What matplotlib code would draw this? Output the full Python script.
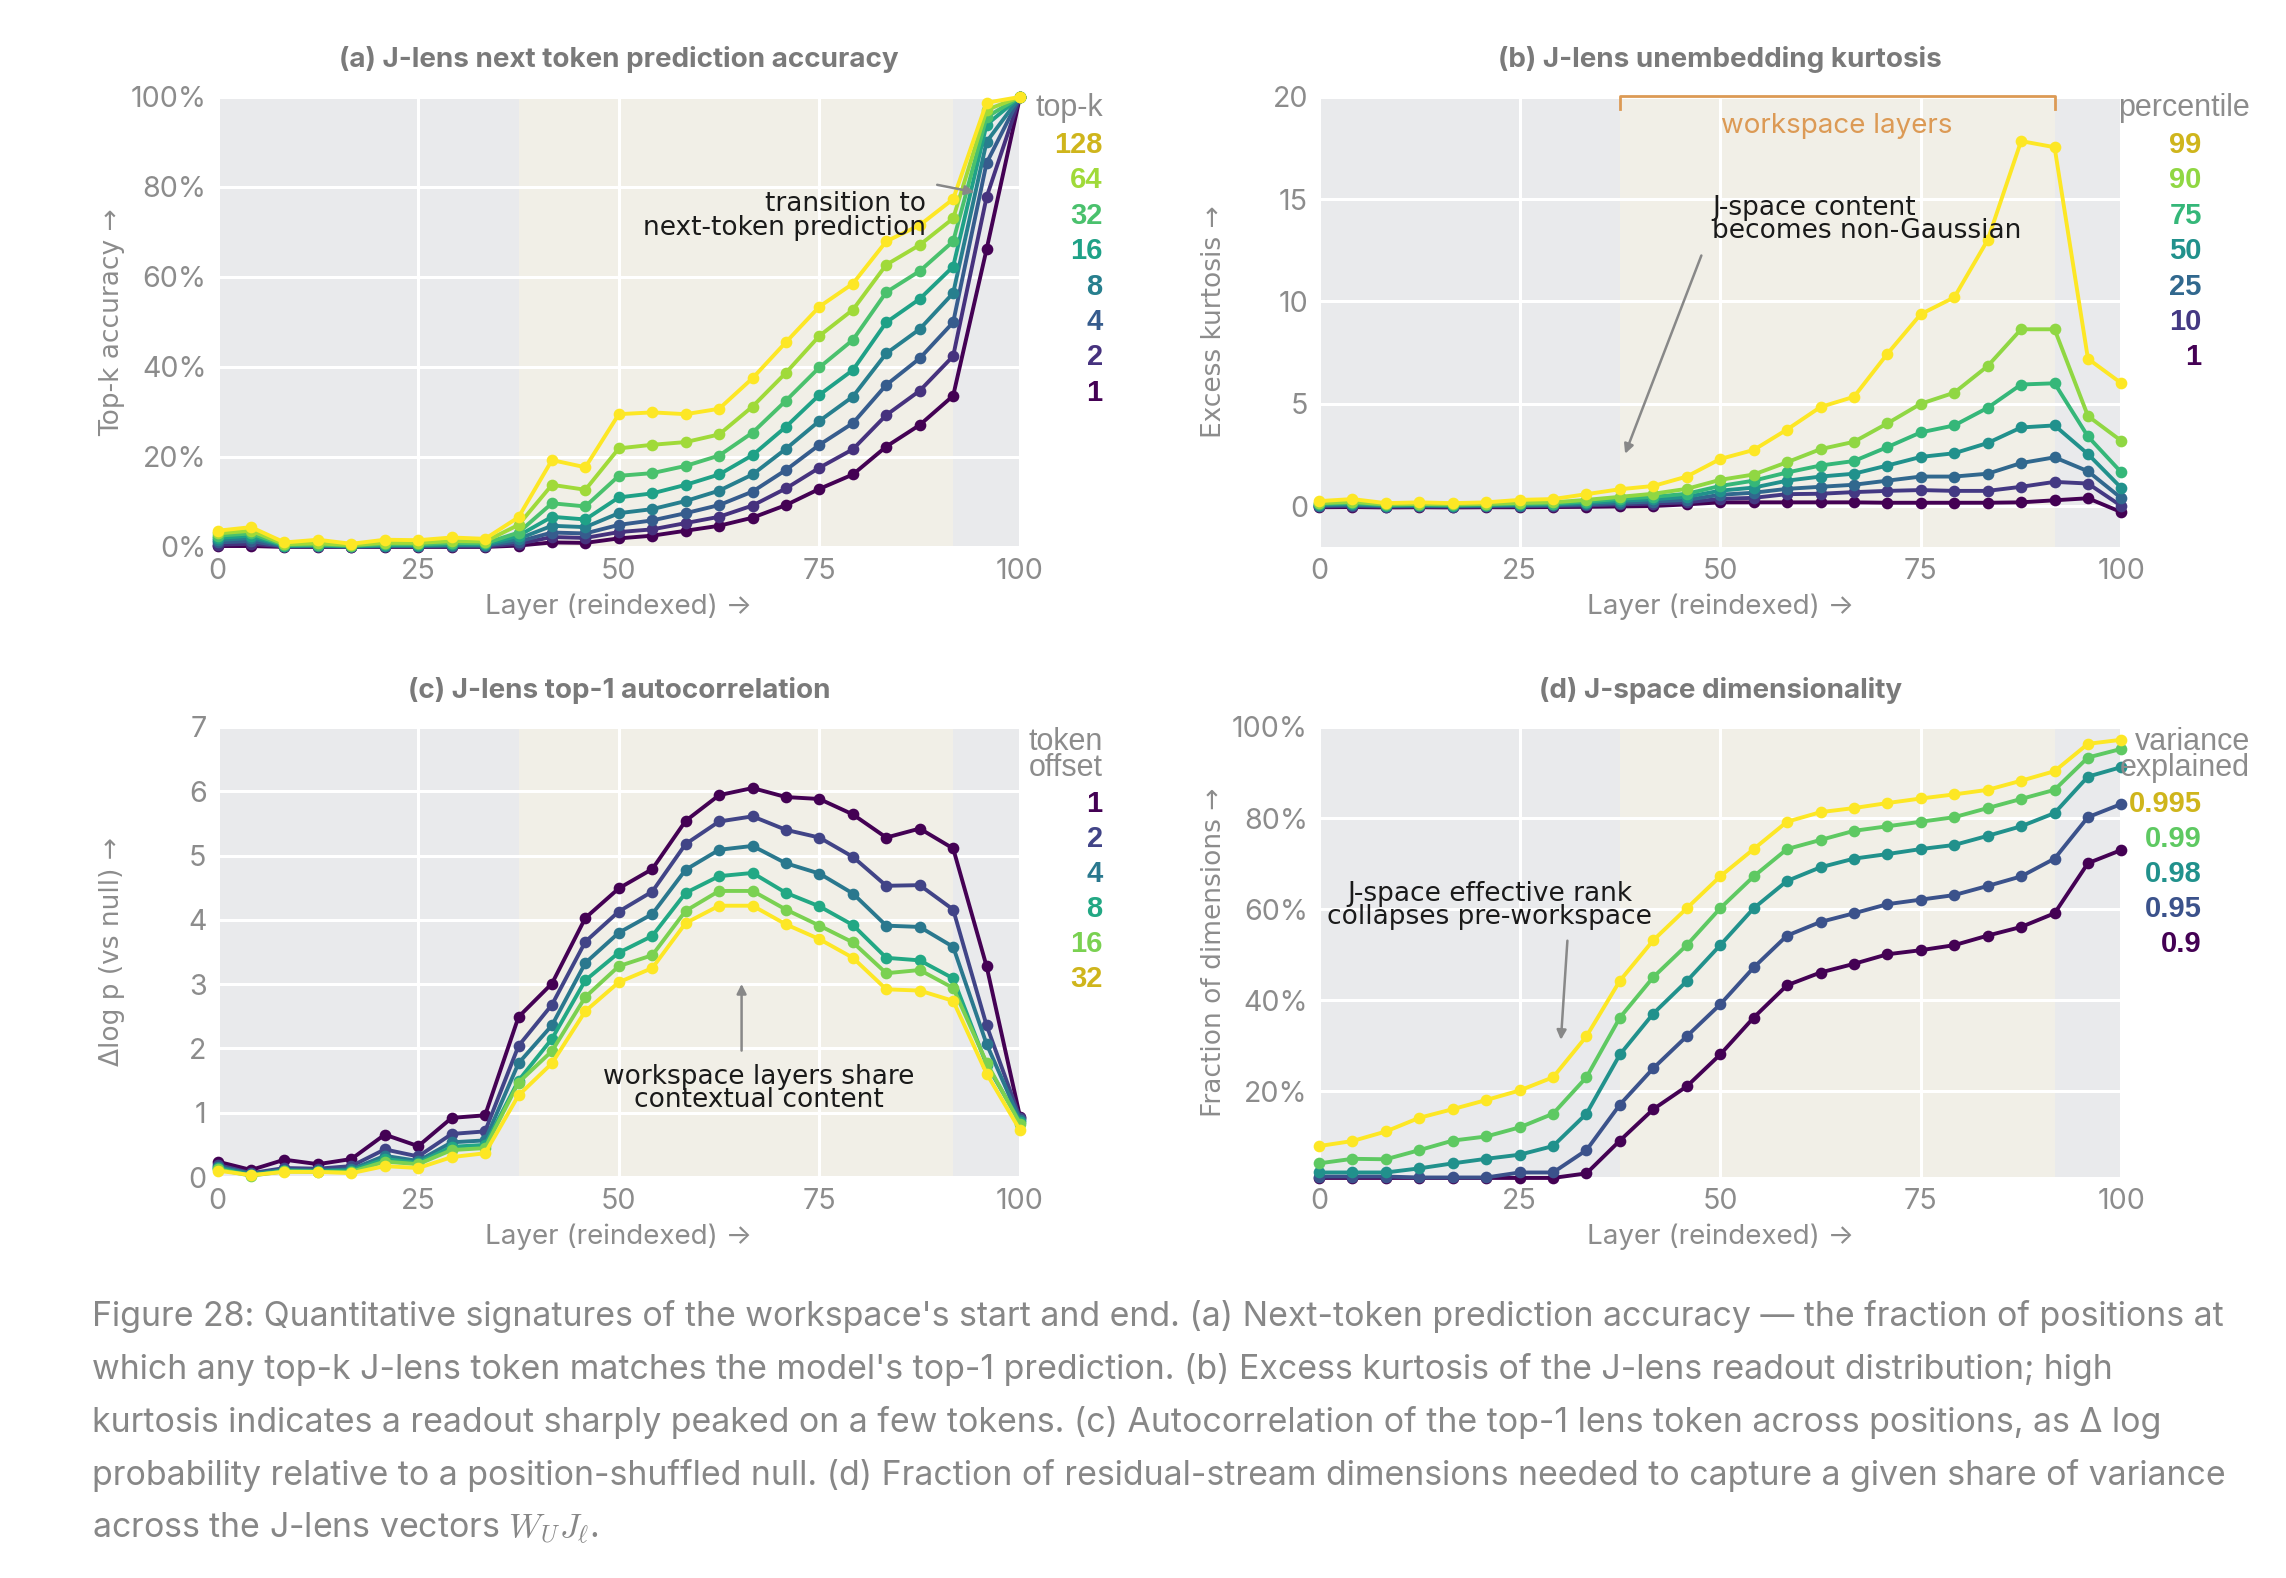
import matplotlib.pyplot as plt
import numpy as np

# reindexed layer positions (25 sampled layers)
layers = [0, 4.17, 8.33, 12.5, 16.67, 20.83, 25, 29.17, 33.33, 37.5, 41.67, 45.83, 50,
          54.17, 58.33, 62.5, 66.67, 70.83, 75, 79.17, 83.33, 87.5, 91.67, 95.83, 100]
workspace = (37.5, 91.67)

# (a) top-k accuracy, %
topk_labels = ['1', '2', '4', '8', '16', '32', '64', '128']
top1 = [0.2, 0.2, 0.0, 0.0, 0.0, 0.0, 0.0, 0.0, 0.0, 0.3, 1.0, 0.9, 1.9, 2.5, 3.6, 4.7, 6.5, 9.3, 12.9, 16.1, 22.3, 27.1, 33.6, 66.1, 100]
top2 = [0.5, 0.7, 0.1, 0.1, 0.0, 0.1, 0.1, 0.1, 0.1, 0.7, 2.2, 2.0, 3.3, 3.9, 5.3, 6.7, 9.2, 13.0, 17.6, 21.7, 29.3, 34.7, 42.4, 77.7, 100]
top4 = [1.0, 1.3, 0.1, 0.2, 0.1, 0.2, 0.2, 0.3, 0.3, 1.2, 3.2, 3.0, 4.9, 5.9, 7.5, 9.3, 12.3, 17.1, 22.7, 27.5, 36.0, 41.9, 49.9, 85.3, 100]
top8 = [1.5, 2.0, 0.2, 0.3, 0.1, 0.3, 0.3, 0.4, 0.4, 1.8, 4.7, 4.4, 7.5, 8.4, 10.2, 12.5, 16.1, 21.8, 28.0, 33.4, 43.0, 48.4, 56.4, 90.0, 100]
top16 = [2.0, 2.5, 0.3, 0.4, 0.2, 0.4, 0.4, 0.6, 0.6, 2.5, 6.7, 6.1, 11.0, 11.9, 13.8, 16.1, 20.4, 26.7, 33.8, 39.3, 49.9, 55.1, 62.3, 93.8, 100]
top32 = [2.5, 3.0, 0.4, 0.5, 0.3, 0.6, 0.6, 0.9, 0.8, 3.2, 9.7, 9.0, 15.8, 16.4, 18.0, 20.3, 25.4, 32.5, 39.9, 46.0, 56.6, 61.3, 67.9, 95.5, 100]
top64 = [3.0, 3.6, 0.6, 0.8, 0.4, 0.9, 0.9, 1.3, 1.2, 4.9, 13.8, 12.7, 21.9, 22.7, 23.3, 25.0, 31.2, 38.7, 46.9, 52.7, 62.7, 67.1, 73.0, 97.1, 100]
top128 = [3.6, 4.4, 1.0, 1.6, 0.7, 1.6, 1.5, 2.1, 1.8, 6.6, 19.3, 17.7, 29.5, 29.9, 29.5, 30.7, 37.5, 45.5, 53.4, 58.5, 67.9, 71.5, 77.3, 98.7, 100]

# (b) excess kurtosis by percentile
pct_labels = ['1', '10', '25', '50', '75', '90', '99']
pct1 = [-0.06, -0.05, -0.07, -0.06, -0.07, -0.06, -0.06, -0.05, -0.04, -0.02, 0.0, 0.08, 0.18, 0.18, 0.18, 0.18, 0.18, 0.16, 0.16, 0.16, 0.16, 0.18, 0.28, 0.38, -0.3]
pct10 = [-0.02, 0.0, -0.03, -0.02, -0.03, -0.02, -0.01, 0.0, 0.03, 0.08, 0.12, 0.18, 0.35, 0.4, 0.58, 0.6, 0.68, 0.74, 0.78, 0.74, 0.74, 0.94, 1.18, 1.1, 0.0]
pct25 = [0.02, 0.05, 0.0, 0.01, 0.0, 0.01, 0.02, 0.04, 0.08, 0.15, 0.22, 0.3, 0.55, 0.65, 0.84, 0.94, 1.04, 1.24, 1.44, 1.44, 1.58, 2.1, 2.38, 1.7, 0.38]
pct50 = [0.06, 0.1, 0.02, 0.04, 0.02, 0.04, 0.06, 0.08, 0.15, 0.25, 0.33, 0.45, 0.75, 0.9, 1.24, 1.44, 1.58, 1.98, 2.4, 2.58, 3.08, 3.84, 3.94, 2.54, 0.88]
pct75 = [0.1, 0.15, 0.05, 0.07, 0.05, 0.07, 0.1, 0.12, 0.22, 0.35, 0.45, 0.6, 0.98, 1.24, 1.64, 1.98, 2.2, 2.88, 3.6, 3.94, 4.8, 5.94, 6.0, 3.4, 1.64]
pct90 = [0.14, 0.2, 0.08, 0.1, 0.08, 0.1, 0.15, 0.18, 0.3, 0.45, 0.6, 0.84, 1.28, 1.54, 2.14, 2.78, 3.14, 4.04, 5.0, 5.54, 6.84, 8.64, 8.64, 4.4, 3.18]
pct99 = [0.24, 0.34, 0.14, 0.18, 0.14, 0.18, 0.3, 0.34, 0.58, 0.82, 0.98, 1.44, 2.3, 2.74, 3.74, 4.84, 5.34, 7.44, 9.38, 10.2, 13.0, 17.84, 17.54, 7.2, 6.0]

# (c) delta log p vs null, by token offset
offset_labels = ['1', '2', '4', '8', '16', '32']
off1 = [0.24, 0.11, 0.27, 0.2, 0.28, 0.66, 0.48, 0.92, 0.96, 2.49, 3.01, 4.03, 4.49, 4.79, 5.54, 5.94, 6.05, 5.91, 5.88, 5.64, 5.28, 5.42, 5.11, 3.28, 0.94]
off2 = [0.19, 0.06, 0.14, 0.13, 0.17, 0.43, 0.32, 0.67, 0.71, 2.04, 2.68, 3.66, 4.13, 4.44, 5.18, 5.53, 5.61, 5.40, 5.28, 4.98, 4.53, 4.54, 4.16, 2.36, 0.92]
off4 = [0.16, 0.05, 0.11, 0.10, 0.12, 0.33, 0.25, 0.54, 0.57, 1.77, 2.36, 3.33, 3.80, 4.09, 4.78, 5.09, 5.15, 4.88, 4.72, 4.41, 3.91, 3.89, 3.58, 2.07, 0.89]
off8 = [0.14, 0.03, 0.10, 0.09, 0.10, 0.28, 0.22, 0.47, 0.50, 1.50, 2.15, 3.06, 3.49, 3.75, 4.42, 4.68, 4.73, 4.42, 4.21, 3.92, 3.41, 3.37, 3.09, 1.75, 0.86]
off16 = [0.12, 0.02, 0.09, 0.08, 0.08, 0.24, 0.20, 0.42, 0.45, 1.47, 1.96, 2.80, 3.28, 3.45, 4.14, 4.45, 4.45, 4.16, 3.91, 3.65, 3.17, 3.22, 2.94, 1.78, 0.83]
off32 = [0.10, 0.03, 0.08, 0.08, 0.06, 0.17, 0.14, 0.31, 0.37, 1.27, 1.77, 2.58, 3.03, 3.25, 3.95, 4.22, 4.22, 3.93, 3.70, 3.41, 2.92, 2.90, 2.74, 1.61, 0.73]

# (d) fraction of dimensions, % by variance explained
var_labels = ['0.9', '0.95', '0.98', '0.99', '0.995']
v90 = [1.0, 1.0, 1.0, 1.0, 1.0, 1.0, 1.0, 1.0, 2.0, 9.2, 16.1, 21.1, 28.1, 36.2, 43.3, 46.1, 48.0, 50.1, 51.0, 52.1, 54.2, 56.1, 59.1, 70.1, 73.0]
v95 = [1.3, 1.3, 1.3, 1.1, 1.1, 1.1, 2.2, 2.2, 7.1, 17.1, 25.1, 32.1, 39.1, 47.2, 54.2, 57.2, 59.1, 61.1, 62.1, 63.1, 65.1, 67.2, 71.1, 80.2, 83.1]
v98 = [2.2, 2.2, 2.2, 3.1, 4.2, 5.2, 6.1, 8.0, 15.1, 28.1, 37.1, 44.2, 52.1, 60.2, 66.2, 69.2, 71.1, 72.1, 73.2, 74.1, 76.1, 78.2, 81.1, 89.1, 91.2]
v99 = [4.2, 5.2, 5.1, 7.1, 9.2, 10.1, 12.1, 15.1, 23.1, 36.2, 45.1, 52.1, 60.2, 67.2, 73.2, 75.2, 77.2, 78.2, 79.2, 80.2, 82.2, 84.2, 86.2, 93.3, 95.2]
v995 = [8.0, 9.1, 11.2, 14.2, 16.1, 18.1, 20.2, 23.1, 32.1, 44.3, 53.2, 60.2, 67.2, 73.2, 79.2, 81.3, 82.2, 83.3, 84.3, 85.2, 86.2, 88.2, 90.3, 96.3, 97.2]

caption = [
    "Figure 28: Quantitative signatures of the workspace's start and end. (a) Next-token prediction accuracy \u2014 the fraction of positions at",
    "which any top-k J-lens token matches the model's top-1 prediction. (b) Excess kurtosis of the J-lens readout distribution; high",
    "kurtosis indicates a readout sharply peaked on a few tokens. (c) Autocorrelation of the top-1 lens token across positions, as \u0394 log",
    "probability relative to a position-shuffled null. (d) Fraction of residual-stream dimensions needed to capture a given share of variance",
    r"across the J-lens vectors $W_U J_\ell$.",
]

BG = '#e9eaec'
BEIGE = '#f1efe7'
TICK = '#8c8c8c'
TITLE = '#7a7a7a'
GOLD = '#cfb51c'
MAIN = 'Inter'
SIDE = 'DejaVu Sans'
LEG = 'Liberation Sans'


def viridis(n):
    return [plt.cm.viridis(v) for v in np.linspace(0, 1, n)]


def panel(rect, title, series, ylim, yticks, yticklabels, ylabel):
    ax = fig.add_axes(rect)
    ax.set_facecolor(BG)
    ax.axvspan(*workspace, color=BEIGE, zorder=0, lw=0)
    ax.set_xlim(0, 100)
    ax.set_ylim(*ylim)
    ax.set_xticks([0, 25, 50, 75, 100])
    ax.set_yticks(yticks)
    ax.set_yticklabels(yticklabels)
    ax.grid(True, color='white', lw=1.1, zorder=1)
    ax.set_axisbelow(True)
    for s in ax.spines.values():
        s.set_visible(False)
    ax.tick_params(length=0, colors=TICK, labelsize=10.3, pad=4)
    for lab in ax.get_xticklabels() + ax.get_yticklabels():
        lab.set_fontfamily(MAIN)
    ax.set_xlabel('Layer (reindexed) \u2192', color=TICK, fontsize=10, family=MAIN, labelpad=3)
    ax.set_ylabel(ylabel, color=TICK, fontsize=9.5, family=SIDE)
    ax.yaxis.set_label_coords(-0.115, 0.5)
    ax.text(0.5, 1.082, title, transform=ax.transAxes, ha='center', va='center',
            fontsize=10, fontweight='bold', color=TITLE, family=MAIN)
    cols = viridis(len(series))
    for y, c in zip(series, cols):
        ax.plot(layers, y, color=c, lw=1.4, marker='o', ms=3.2, clip_on=False, zorder=3)
    return ax, cols


def legend(ax, title, labels, cols, x_title, x_num, y_title, y0, dy, top_first=False):
    ax.text(x_title, y_title, title, transform=ax.transAxes, ha='right', va='top',
            fontsize=11, color=TICK, family=LEG, linespacing=0.85)
    n = len(labels)
    order = range(n) if top_first else range(n - 1, -1, -1)
    for i, j in enumerate(order):
        c = GOLD if j == n - 1 else cols[j]
        ax.text(x_num, y0 - i * dy, labels[j], transform=ax.transAxes, ha='right', va='center',
                fontsize=10.5, fontweight='bold', color=c, family=LEG)


def note(ax, text, xy, xytext, tx, ty, ha):
    ax.annotate('', xy=xy, xytext=xytext,
                arrowprops=dict(arrowstyle='-|>', color='#888888', lw=0.9, mutation_scale=7), zorder=5)
    ax.text(tx, ty, text, ha=ha, va='center', fontsize=9.5, family=SIDE, color='#1a1a1a',
            linespacing=0.88, zorder=6)


fig = plt.figure(figsize=(11.43, 7.89), dpi=200)
W, H = 0.351, 0.2852

# (a)
ax, cols = panel([0.0952, 0.6534, W, H], '(a) J-lens next token prediction accuracy',
                 [top1, top2, top4, top8, top16, top32, top64, top128],
                 (0, 100), [0, 20, 40, 60, 80, 100], [f'{v}%' for v in range(0, 101, 20)],
                 'Top-k accuracy \u2192')
legend(ax, 'top-k', topk_labels, cols, 1.103, 1.103, 1.008, 0.893, 0.0786)
note(ax, 'transition to\nnext-token prediction', (95.0, 78.6), (89.0, 80.7), 88.3, 73.6, 'right')

# (b)
ax, cols = panel([0.577, 0.6534, W, H], '(b) J-lens unembedding kurtosis',
                 [pct1, pct10, pct25, pct50, pct75, pct90, pct99],
                 (-2, 20), [0, 5, 10, 15, 20], ['0', '5', '10', '15', '20'],
                 'Excess kurtosis \u2192')
legend(ax, 'percentile', pct_labels, cols, 1.16, 1.10, 1.008, 0.893, 0.0786)
orange = '#dc9a55'
ax.plot([workspace[0], workspace[0], workspace[1], workspace[1]], [19.4, 20.05, 20.05, 19.4],
        color=orange, lw=1.0, clip_on=False, zorder=5)
ax.text(sum(workspace) / 2, 18.6, 'workspace layers', ha='center', va='center',
        fontsize=10, color=orange, family=MAIN)
note(ax, 'J-space content\nbecomes non-Gaussian', (37.9, 2.3), (47.9, 12.5), 49.0, 14.0, 'left')

# (c)
ax, cols = panel([0.0952, 0.2541, W, H], '(c) J-lens top-1 autocorrelation',
                 [off1, off2, off4, off8, off16, off32],
                 (0, 7), list(range(8)), [str(v) for v in range(8)],
                 '\u0394log p (vs null) \u2192')
legend(ax, 'token\noffset', offset_labels, cols, 1.103, 1.103, 1.001, 0.829, 0.078, top_first=True)
note(ax, 'workspace layers share\ncontextual content', (65.3, 3.09), (65.3, 1.88), 67.4, 1.38, 'center')

# (d)
ax, cols = panel([0.577, 0.2541, W, H], '(d) J-space dimensionality',
                 [v90, v95, v98, v99, v995],
                 (1.2, 100), [20, 40, 60, 80, 100], [f'{v}%' for v in range(20, 101, 20)],
                 'Fraction of dimensions \u2192')
legend(ax, 'variance\nexplained', var_labels, cols, 1.16, 1.10, 1.001, 0.829, 0.078)
note(ax, 'J-space effective rank\ncollapses pre-workspace', (30.1, 30.1), (31.0, 54.3), 21.3, 60.8, 'center')

# caption
for i, line in enumerate(caption):
    fig.text(0.0402, 0.166 - i * 0.0336, line, ha='left', va='center', fontsize=12.2,
             color='#878787', family=MAIN, math_fontfamily='cm')

fig.savefig('out.png', dpi=200)
